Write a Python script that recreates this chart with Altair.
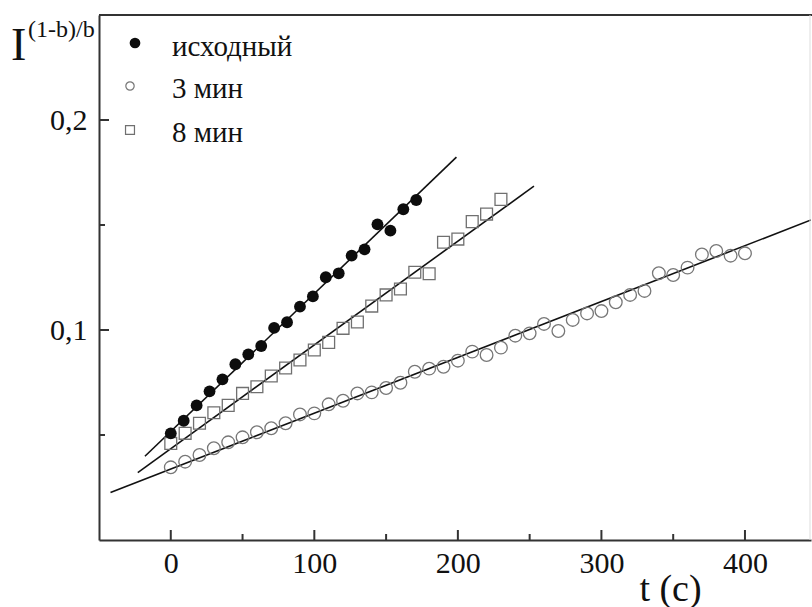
import altair as alt
import pandas as pd

FONT = "Liberation Serif"

# исходный (filled circles)
t_initial = [0, 9, 18, 27, 36, 45, 54, 63, 72, 81, 90, 99, 108, 117, 126,
             135, 144, 153, 162, 171]
v_initial = [0.0508, 0.0568, 0.0641, 0.0708, 0.0765, 0.0837, 0.0884, 0.0924,
             0.1010, 0.1037, 0.1111, 0.1160, 0.1251, 0.1270, 0.1354, 0.1384,
             0.1503, 0.1473, 0.1575, 0.1619]

# 3 мин (open circles)
t_3min = [0, 10, 20, 30, 40, 50, 60, 70, 80, 90, 100, 110, 120, 130, 140,
          150, 160, 170, 180, 190, 200, 210, 220, 230, 240, 250, 260, 270,
          280, 290, 300, 310, 320, 330, 340, 350, 360, 370, 380, 390, 400]
v_3min = [0.0346, 0.0373, 0.0405, 0.0437, 0.0465, 0.0489, 0.0513, 0.0532,
          0.0556, 0.0598, 0.0603, 0.0646, 0.0663, 0.0698, 0.0703, 0.0724,
          0.0749, 0.0801, 0.0816, 0.0825, 0.0854, 0.0897, 0.0881, 0.0916,
          0.0973, 0.0984, 0.1029, 0.0995, 0.1048, 0.1079, 0.1090, 0.1132,
          0.1167, 0.1186, 0.1270, 0.1262, 0.1297, 0.1360, 0.1376, 0.1354,
          0.1365]

# 8 мин (open squares)
t_8min = [0, 10, 20, 30, 40, 50, 60, 70, 80, 90, 100, 110, 120, 130, 140,
          150, 160, 170, 180, 190, 200, 210, 220, 230]
v_8min = [0.0460, 0.0508, 0.0556, 0.0606, 0.0641, 0.0698, 0.0730, 0.0781,
          0.0819, 0.0857, 0.0905, 0.0941, 0.1008, 0.1038, 0.1114, 0.1167,
          0.1195, 0.1275, 0.1268, 0.1418, 0.1433, 0.1516, 0.1552, 0.1622]

# straight-line fits: end points (t, value) of each fitted line
fit_initial_t = [-18, 199]
fit_initial_v = [0.0399, 0.1823]
fit_3min_t = [-42, 446]
fit_3min_v = [0.0226, 0.1524]
fit_8min_t = [-23, 253]
fit_8min_v = [0.0321, 0.1685]

legend_labels = ["исходный", "3 мин", "8 мин"]

x_major = [0, 100, 200, 300, 400]
x_minor = [50, 150, 250, 350]
y_major = [0.1, 0.2]
y_minor = [0.05, 0.15]

W, H = 712, 525
X_DOMAIN = [-50, 446]
Y_DOMAIN = [0, 0.25]

xs = alt.Scale(domain=X_DOMAIN, nice=False, zero=False)
ys = alt.Scale(domain=Y_DOMAIN, nice=False, zero=False)

df_init = pd.DataFrame({"t": t_initial, "v": v_initial})
df_3 = pd.DataFrame({"t": t_3min, "v": v_3min})
df_8 = pd.DataFrame({"t": t_8min, "v": v_8min})
df_fit = pd.DataFrame({
    "t": fit_initial_t + fit_8min_t + fit_3min_t,
    "v": fit_initial_v + fit_8min_v + fit_3min_v,
    "s": ["a", "a", "b", "b", "c", "c"],
})

x_axis = alt.Axis(values=x_major, ticks=False, tickSize=0, grid=False,
                  domainColor="#333333", domainWidth=2,
                  labelFont=FONT, labelFontSize=30, labelColor="#111111",
                  labelPadding=8, labelFlush=False,
                  title="t (c)", titleFont=FONT, titleFontSize=38,
                  titleFontWeight="normal", titleColor="#111111",
                  titleX=571, titleY=60, titleAlign="center",
                  titleBaseline="alphabetic", titleAnchor="start")
y_axis = alt.Axis(values=y_major, ticks=False, tickSize=0, grid=False,
                  domainColor="#333333", domainWidth=2,
                  labelFont=FONT, labelFontSize=30, labelColor="#111111",
                  labelPadding=12, format=".1f",
                  labelExpr="replace(datum.label, '.', ',')", title=None)

X = alt.X("t:Q", scale=xs, axis=x_axis)
Y = alt.Y("v:Q", scale=ys, axis=y_axis)
Xp = alt.X("t:Q", scale=xs)
Yp = alt.Y("v:Q", scale=ys)

fits = alt.Chart(df_fit).mark_line(
    color="#111111", strokeWidth=1.6, clip=True
).encode(x=X, y=Y, detail="s:N")

pts_init = alt.Chart(df_init).mark_point(
    shape="circle", filled=True, size=140, color="#0d0d0d", opacity=1
).encode(x=Xp, y=Yp)

pts_3 = alt.Chart(df_3).mark_point(
    shape="circle", filled=False, size=160, color="#777777",
    strokeWidth=1.3, opacity=1
).encode(x=Xp, y=Yp)

pts_8 = alt.Chart(df_8).mark_point(
    shape="square", filled=False, size=140, color="#707070",
    strokeWidth=1.3, opacity=1
).encode(x=Xp, y=Yp)

# inward tick marks (major longer than minor)
tick_color = "#333333"
xt_major = alt.Chart(pd.DataFrame({"t": x_major})).mark_rule(
    color=tick_color, strokeWidth=2
).encode(x=Xp, y=alt.value(H), y2=alt.value(H - 10))
xt_minor = alt.Chart(pd.DataFrame({"t": x_minor})).mark_rule(
    color=tick_color, strokeWidth=2
).encode(x=Xp, y=alt.value(H), y2=alt.value(H - 6))
yt_major = alt.Chart(pd.DataFrame({"v": y_major})).mark_rule(
    color=tick_color, strokeWidth=2
).encode(y=Yp, x=alt.value(0), x2=alt.value(10))
yt_minor = alt.Chart(pd.DataFrame({"v": y_minor})).mark_rule(
    color=tick_color, strokeWidth=2
).encode(y=Yp, x=alt.value(0), x2=alt.value(6))

one = pd.DataFrame({"k": [0]})

# frame: top and right edges
frame_top = alt.Chart(one).mark_rule(
    color="#333333", strokeWidth=2
).encode(x=alt.value(0), x2=alt.value(W + 1), y=alt.value(0))
frame_right = alt.Chart(one).mark_rule(
    color="#dddddd", strokeWidth=1
).encode(x=alt.value(W - 1), y=alt.value(0), y2=alt.value(H))

# legend
leg_sym1 = alt.Chart(one).mark_point(
    shape="circle", filled=True, size=115, color="#0d0d0d", opacity=1
).encode(x=alt.value(36), y=alt.value(28))
leg_sym2 = alt.Chart(one).mark_point(
    shape="circle", filled=False, size=70, color="#777777", strokeWidth=1.2,
    opacity=1
).encode(x=alt.value(31), y=alt.value(71))
leg_sym3 = alt.Chart(one).mark_point(
    shape="square", filled=False, size=80, color="#707070", strokeWidth=1.2,
    opacity=1
).encode(x=alt.value(31), y=alt.value(115))


def legend_text(label, y):
    return alt.Chart(one).mark_text(
        font=FONT, fontSize=29, align="left", baseline="alphabetic",
        color="#111111", text=label
    ).encode(x=alt.value(73), y=alt.value(y))


leg_t1 = legend_text(legend_labels[0], 41)
leg_t2 = legend_text(legend_labels[1], 83)
leg_t3 = legend_text(legend_labels[2], 127)

# y-axis title: I^((1-b)/b)
ytitle_main = alt.Chart(one).mark_text(
    font=FONT, fontSize=46, align="left", baseline="alphabetic",
    color="#111111", text="I"
).encode(x=alt.value(-88), y=alt.value(45))
ytitle_sup = alt.Chart(one).mark_text(
    font=FONT, fontSize=24, align="left", baseline="alphabetic",
    color="#111111", text="(1-b)/b"
).encode(x=alt.value(-71), y=alt.value(22))

chart = alt.layer(
    fits, pts_3, pts_8, pts_init,
    xt_major, xt_minor, yt_major, yt_minor,
    frame_top, frame_right,
    leg_sym1, leg_sym2, leg_sym3, leg_t1, leg_t2, leg_t3,
    ytitle_main, ytitle_sup,
).properties(
    width=W, height=H,
    padding={"left": 99, "top": 15, "right": 1, "bottom": 67},
    autosize=alt.AutoSizeParams(type="none"),
    background="white",
).configure_view(stroke=None)

chart.save("out.html", embed_options={"renderer": "svg", "actions": False})
